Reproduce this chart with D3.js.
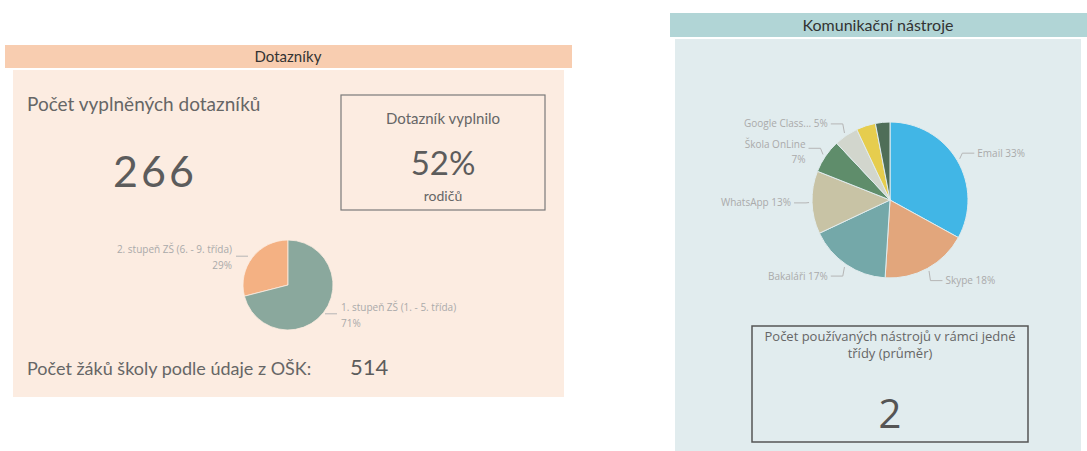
<!DOCTYPE html>
<html>
<head>
<meta charset="utf-8">
<script src="https://cdn.jsdelivr.net/npm/d3@7"></script>
<style>
  body { margin: 0; background: #fff; }
  svg { display: block; }
</style>
</head>
<body>
<div id="chart"></div>
<script>
// ---- data ----
var surveyTitle = "Dotazníky";
var surveyCount = 266;
var parentShare = "52%";
var pupilCount = 514;
var gradeLabels = ["2. stupeň ZŠ (6. - 9. třída)", "1. stupeň ZŠ (1. - 5. třída)"];
var gradeValues = [29, 71];
var gradeColors = ["#f4b183", "#8aa89d"];

var toolsTitle = "Komunikační nástroje";
var toolLabels = ["Email", "Skype", "Bakaláři", "WhatsApp", "Škola OnLine", "Google Class...", "Ostatní", "Jiné"];
var toolValues = [33, 18, 17, 13, 7, 5, 4, 3];
var toolColors = ["#41b6e6", "#e2a67c", "#74a8a9", "#c8c3a5", "#5f8d6b", "#d2d6cd", "#e6cd4e", "#4f6e58"];
var toolsAvg = 2;

var W = 1087, H = 451;
var svg = d3.select("#chart").append("svg")
    .attr("width", W)
    .attr("height", H);

var font = "Lato, 'Open Sans', sans-serif";
var smallFont = "'Open Sans', sans-serif";

// ---------- left panel ----------
var left = svg.append("g");

left.append("rect")
    .attr("x", 13).attr("y", 70)
    .attr("width", 551).attr("height", 327)
    .attr("fill", "#fcece1");

left.append("rect")
    .attr("x", 5).attr("y", 45)
    .attr("width", 567).attr("height", 23)
    .attr("fill", "#f8cdb0");

left.append("text")
    .attr("x", 288).attr("y", 62)
    .attr("text-anchor", "middle")
    .style("font-family", font).style("font-size", "15px")
    .attr("fill", "#333")
    .text(surveyTitle);

left.append("text")
    .attr("x", 27).attr("y", 111)
    .style("font-family", font).style("font-size", "19px")
    .attr("fill", "#666")
    .text("Počet vyplněných dotazníků");

left.append("text")
    .attr("x", 155).attr("y", 187)
    .attr("text-anchor", "middle")
    .style("font-family", font).style("font-size", "43px")
    .style("letter-spacing", "3px")
    .attr("fill", "#5c5c5c")
    .text(surveyCount);

// KPI box
left.append("rect")
    .attr("x", 341).attr("y", 95)
    .attr("width", 204).attr("height", 115)
    .attr("fill", "none")
    .attr("stroke", "#7a7a7a").attr("stroke-width", 1.2);

left.append("text")
    .attr("x", 443).attr("y", 124)
    .attr("text-anchor", "middle")
    .style("font-family", font).style("font-size", "15px")
    .attr("fill", "#666")
    .text("Dotazník vyplnilo");

left.append("text")
    .attr("x", 443).attr("y", 175)
    .attr("text-anchor", "middle")
    .style("font-family", font).style("font-size", "33px")
    .attr("fill", "#5c5c5c")
    .text(parentShare);

left.append("text")
    .attr("x", 443).attr("y", 201)
    .attr("text-anchor", "middle")
    .style("font-family", font).style("font-size", "14px")
    .attr("fill", "#666")
    .text("rodičů");

left.append("text")
    .attr("x", 27).attr("y", 375)
    .style("font-family", font).style("font-size", "18px")
    .attr("fill", "#666")
    .text("Počet žáků školy podle údaje z OŠK:");

left.append("text")
    .attr("x", 350).attr("y", 375)
    .style("font-family", font).style("font-size", "22px")
    .attr("fill", "#5c5c5c")
    .text(pupilCount);

// small pie
var gradeData = gradeLabels.map(function(d, i) {
    return { label: d, value: gradeValues[i], color: gradeColors[i] };
});
var pie1 = d3.pie().sort(null).value(function(d) { return d.value; })
    .startAngle(-2 * Math.PI * gradeValues[0] / 100)
    .endAngle(2 * Math.PI - 2 * Math.PI * gradeValues[0] / 100);
var r1 = 45;
var arc1 = d3.arc().innerRadius(0).outerRadius(r1);
var g1 = left.append("g").attr("transform", "translate(288,285)");

var arcs1 = pie1(gradeData);
g1.selectAll("path.slice")
    .data(arcs1)
    .enter().append("path")
    .attr("class", "slice")
    .attr("d", arc1)
    .attr("fill", function(d) { return d.data.color; })
    .attr("stroke", "#fcece1").attr("stroke-width", 0.8);

function midAngle(d) { return (d.startAngle + d.endAngle) / 2; }

arcs1.forEach(function(d) {
    var a = midAngle(d);
    var side = Math.sin(a) < 0 ? -1 : 1;
    var py = -Math.cos(a) * (r1 + 2);
    var x0 = (side < 0) ? -r1 + 5 : r1 - 8;
    var lx = x0 + side * 12;
    g1.append("line")
        .attr("x1", x0).attr("y1", py)
        .attr("x2", lx).attr("y2", py)
        .attr("stroke", "#b5b5b5").attr("stroke-width", 1);
    var t = g1.append("text")
        .attr("x", lx + side * 4)
        .attr("y", py - 3)
        .attr("text-anchor", side < 0 ? "end" : "start")
        .style("font-family", smallFont).style("font-size", "10px")
        .attr("fill", "#aaa");
    t.append("tspan").text(d.data.label);
    t.append("tspan").attr("x", lx + side * 4).attr("dy", 16)
        .text(d.data.value + "%");
});

// ---------- right panel ----------
var right = svg.append("g");

right.append("rect")
    .attr("x", 675).attr("y", 39)
    .attr("width", 406).attr("height", 412)
    .attr("fill", "#e1ecee");

right.append("rect")
    .attr("x", 670).attr("y", 13)
    .attr("width", 417).attr("height", 24)
    .attr("fill", "#b1d5d6");

right.append("text")
    .attr("x", 878).attr("y", 31)
    .attr("text-anchor", "middle")
    .style("font-family", font).style("font-size", "16px")
    .attr("fill", "#333")
    .text(toolsTitle);

var toolData = toolLabels.map(function(d, i) {
    return { label: d, value: toolValues[i], color: toolColors[i] };
});
var r2 = 78;
var pie2 = d3.pie().sort(null).value(function(d) { return d.value; });
var arc2 = d3.arc().innerRadius(0).outerRadius(r2);
var g2 = right.append("g").attr("transform", "translate(890,200)");
var arcs2 = pie2(toolData);

g2.selectAll("path.slice")
    .data(arcs2)
    .enter().append("path")
    .attr("class", "slice")
    .attr("d", arc2)
    .attr("fill", function(d) { return d.data.color; })
    .attr("stroke", "#e1ecee").attr("stroke-width", 1);

// labels only for the named, larger slices
arcs2.filter(function(d) { return d.data.value >= 5; }).forEach(function(d) {
    var a = midAngle(d);
    var side = Math.sin(a) < 0 ? -1 : 1;
    var px = Math.sin(a) * (r2 + 3), py = -Math.cos(a) * (r2 + 3);
    var ey = -Math.cos(a) * (r2 + 14);
    var ex = Math.sin(a) * (r2 + 6);
    var lx = ex + side * 12;
    g2.append("path")
        .attr("d", "M" + px + "," + py + "L" + ex + "," + ey + "L" + lx + "," + ey)
        .attr("fill", "none")
        .attr("stroke", "#b5b5b5").attr("stroke-width", 1);
    var t = g2.append("text")
        .attr("x", lx + side * 3)
        .attr("y", ey + 3.5)
        .attr("text-anchor", side < 0 ? "end" : "start")
        .style("font-family", smallFont).style("font-size", "10px")
        .attr("fill", "#aaa");
    if (d.data.label === "Škola OnLine") {
        t.attr("y", ey);
        t.append("tspan").text(d.data.label);
        t.append("tspan").attr("x", lx + side * 3).attr("dy", 15).text(d.data.value + "%");
    } else {
        t.text(d.data.label + " " + d.data.value + "%");
    }
});

// average box
right.append("rect")
    .attr("x", 752).attr("y", 326)
    .attr("width", 276).attr("height", 116)
    .attr("fill", "none")
    .attr("stroke", "#555").attr("stroke-width", 1.5);

right.append("text")
    .attr("x", 890).attr("y", 341)
    .attr("text-anchor", "middle")
    .style("font-family", smallFont).style("font-size", "13px")
    .attr("fill", "#666")
    .text("Počet používaných nástrojů v rámci jedné");

right.append("text")
    .attr("x", 890).attr("y", 358)
    .attr("text-anchor", "middle")
    .style("font-family", smallFont).style("font-size", "13px")
    .attr("fill", "#666")
    .text("třídy (průměr)");

right.append("text")
    .attr("x", 890).attr("y", 428)
    .attr("text-anchor", "middle")
    .style("font-family", smallFont).style("font-size", "40px")
    .attr("fill", "#555")
    .text(toolsAvg);
</script>
</body>
</html>
